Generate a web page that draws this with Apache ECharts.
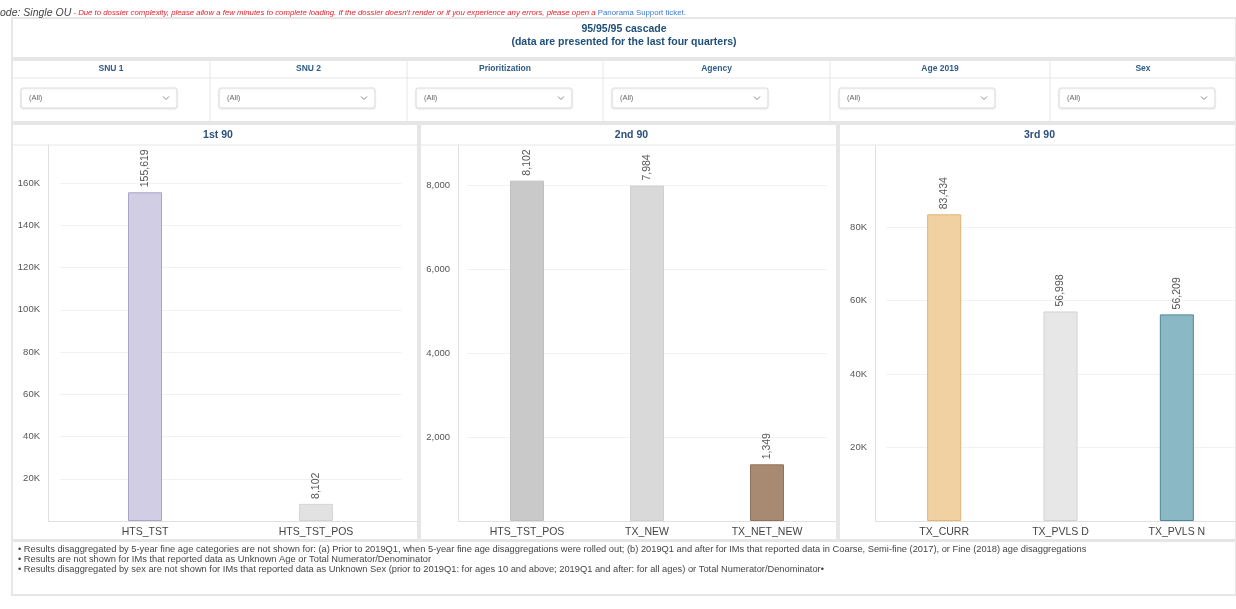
<!DOCTYPE html>
<html>
<head>
<meta charset="utf-8">
<script src="https://cdn.jsdelivr.net/npm/echarts@6/dist/echarts.min.js"></script>
<style>
html,body{margin:0;padding:0;background:#fff;}
#c{width:1236px;height:609px;}
</style>
</head>
<body>
<div id="c"></div>
<script>
// ---- data ----
const cat1 = ['HTS_TST', 'HTS_TST_POS'];
const val1 = [155619, 8102];
const cat2 = ['HTS_TST_POS', 'TX_NEW', 'TX_NET_NEW'];
const val2 = [8102, 7984, 1349];
const cat3 = ['TX_CURR', 'TX_PVLS D', 'TX_PVLS N'];
const val3 = [83434, 56998, 56209];
const panelTitles = ['1st 90', '2nd 90', '3rd 90'];
const filterLabels = ['SNU 1', 'SNU 2', 'Prioritization', 'Agency', 'Age 2019', 'Sex'];
const filterValue = '(All)';
const notes = [
  '• Results disaggregated by 5-year fine age categories are not shown for: (a) Prior to 2019Q1, when 5-year fine age disaggregations were rolled out; (b) 2019Q1 and after for IMs that reported data in Coarse, Semi-fine (2017), or Fine (2018) age disaggregations',
  '• Results are not shown for IMs that reported data as Unknown Age or Total Numerator/Denominator',
  '• Results disaggregated by sex are not shown for IMs that reported data as Unknown Sex (prior to 2019Q1: for ages 10 and above; 2019Q1 and after: for all ages) or Total Numerator/Denominator•'
];

// styles
const fill1 = ['#d1cde4', '#e2e2e2'];
const border1 = ['#aaa4c9', '#d4d4d4'];
const fill2 = ['#c9c9c9', '#d9d9d9', '#a88a72'];
const border2 = ['#c0c0c0', '#d0d0d0', '#8f735d'];
const fill3 = ['#f1d0a1', '#e7e7e7', '#8bb8c5'];
const border3 = ['#e2b472', '#d2d2d2', '#4f8797'];

const FONT = '"Liberation Sans", Arial, sans-serif';
const BORDER = '#e6e6e6';

const chart = echarts.init(document.getElementById('c'), null, {renderer: 'canvas'});

function kfmt(v) { return v === 0 ? '' : (v / 1000) + 'K'; }
function cfmt(v) { return v === 0 ? '' : v.toLocaleString('en-US'); }

function mkData(vals, fills, borders) {
  return vals.map((v, i) => ({
    value: v,
    itemStyle: {color: fills[i], borderColor: borders[i], borderWidth: 1}
  }));
}

const grids = [
  {left: 59.5, top: 145, width: 342, height: 376},
  {left: 467, top: 145, width: 360, height: 376},
  {left: 886, top: 153.4, width: 349, height: 367.6}
];
const yOffsets = [11.5, 9, 11];
const yMax = [178000, 8950, 100000];
const yInt = [20000, 2000, 20000];
const yFmt = [kfmt, cfmt, kfmt];
const cats = [cat1, cat2, cat3];
const datas = [mkData(val1, fill1, border1), mkData(val2, fill2, border2), mkData(val3, fill3, border3)];

const xAxes = cats.map((c, i) => ({
  type: 'category', gridIndex: i, data: c,
  axisLine: {show: false}, axisTick: {show: false},
  axisLabel: {color: '#444', fontSize: 10.5, fontFamily: FONT, margin: 6}
}));
const yAxes = [0, 1, 2].map(i => ({
  type: 'value', gridIndex: i, min: 0, max: yMax[i], interval: yInt[i], offset: yOffsets[i],
  axisLine: {show: i !== 2, lineStyle: {color: '#e0e0e0'}}, axisTick: {show: false},
  splitLine: {show: true, showMaxLine: false, lineStyle: {color: '#f2f2f2'}},
  axisLabel: {color: '#555', fontSize: 9.5, fontFamily: FONT, margin: 8, formatter: yFmt[i], showMaxLabel: false}
}));
const series = [0, 1, 2].map(i => ({
  type: 'bar', xAxisIndex: i, yAxisIndex: i, data: datas[i], barWidth: 34,
  label: {
    show: true, position: 'top', rotate: 90, distance: 5, align: 'left', verticalAlign: 'middle',
    color: '#555', fontSize: 10.5, fontFamily: FONT,
    formatter: p => p.value.toLocaleString('en-US')
  }
}));

// ---- graphic (dashboard frame) ----
const g = [];
function box(x, y, w, h) {
  g.push({type: 'rect', shape: {x: x, y: y, width: w, height: h}, style: {fill: '#fff', stroke: BORDER, lineWidth: 2}, z: -10});
}
function line(x1, y1, x2, y2, color, z) {
  g.push({type: 'line', shape: {x1: x1, y1: y1, x2: x2, y2: y2}, style: {stroke: color || BORDER, lineWidth: 1}, z: z === undefined ? -5 : z});
}
function text(x, y, t, st) {
  g.push({type: 'text', x: x, y: y, style: Object.assign({text: t, fontFamily: FONT, fill: '#333', fontSize: 10, verticalAlign: 'middle'}, st), z: 5});
}

// top notice line
g.push({
  type: 'text', x: 0, y: 13, z: 5,
  style: {
    text: '{a|ode: Single OU}{b| - Due to dossier complexity, please allow a few minutes to complete loading. If the dossier doesn\'t render or if you experience any errors, please open a }{c|Panorama Support ticket.}',
    verticalAlign: 'middle', fontFamily: FONT,
    rich: {
      a: {fontSize: 10.5, fill: '#444', fontStyle: 'italic', fontFamily: FONT},
      b: {fontSize: 7.8, fill: '#e8202a', fontStyle: 'italic', fontFamily: FONT},
      c: {fontSize: 7.8, fill: '#3a78d6', fontFamily: FONT}
    }
  }
});

// title box
box(12, 18, 1224, 40);
text(624, 29, '95/95/95 cascade', {fontSize: 10.5, fontWeight: 'bold', fill: '#1f4e79', align: 'center'});
text(624, 42, '(data are presented for the last four quarters)', {fontSize: 10.5, fontWeight: 'bold', fill: '#1f4e79', align: 'center'});

// filter row
box(12, 60, 1224, 62);
const cols = [12, 210, 407, 603, 830, 1050, 1236];
line(12, 78, 1236, 78);
for (let i = 0; i < filterLabels.length; i++) {
  const x0 = cols[i], x1 = cols[i + 1];
  if (i > 0) line(x0, 60, x0, 122);
  text((x0 + x1) / 2, 69, filterLabels[i], {fontSize: 8.5, fontWeight: 'bold', fill: '#2e5c87', align: 'center'});
  const dx = x0 + 9;
  g.push({type: 'rect', shape: {x: dx, y: 88, width: 156, height: 20, r: 2}, style: {fill: '#fff', stroke: '#dcdcdc', lineWidth: 1, shadowBlur: 2, shadowColor: 'rgba(0,0,0,0.08)', shadowOffsetY: 1}, z: 1});
  text(dx + 8, 98, filterValue, {fontSize: 7.5, fill: '#666'});
  g.push({type: 'polyline', shape: {points: [[dx + 142, 96.5], [dx + 145, 99.5], [dx + 148, 96.5]]}, style: {stroke: '#888', lineWidth: 1, fill: null}, z: 2});
}

// panels
const panels = [[12, 406], [420, 417], [839, 397]];
const axisX = [48, 458, 875];
panels.forEach((p, i) => {
  box(p[0], 124, p[1], 416);
  line(p[0], 145, p[0] + p[1], 145);
  text(p[0] + p[1] / 2 + (i === 2 ? 2 : 3), 135, panelTitles[i], {fontSize: 10.5, fontWeight: 'bold', fill: '#2b4f7c', align: 'center'});
  line(axisX[i], 521.5, p[0] + p[1], 521.5, '#e0e0e0', 1);
});
// 3rd panel's y-axis line, full height to the title separator
line(875.5, 145, 875.5, 521.5, '#e0e0e0', 1);

// notes
box(12, 541, 1224, 54);
notes.forEach((n, i) => text(18, 549 + i * 10.2, n, {fontSize: 9.3, fill: '#444'}));

chart.setOption({
  animation: false,
  backgroundColor: '#fff',
  textStyle: {fontFamily: FONT},
  grid: grids,
  xAxis: xAxes,
  yAxis: yAxes,
  series: series,
  graphic: {elements: g}
});
</script>
</body>
</html>
